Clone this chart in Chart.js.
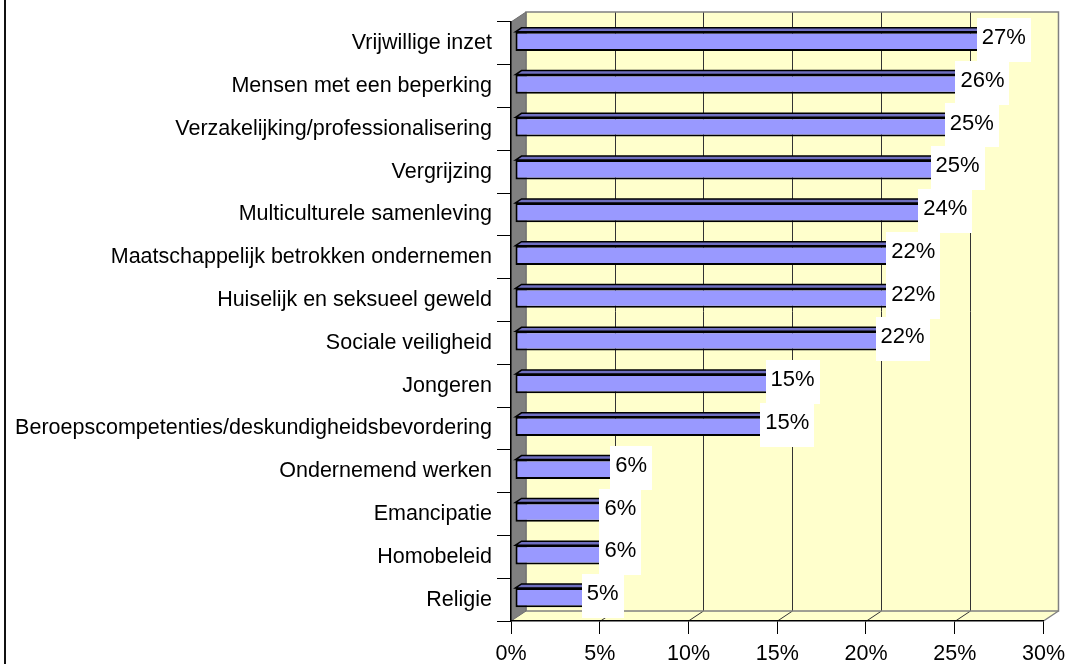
<!DOCTYPE html>
<html>
<head>
<meta charset="utf-8">
<script src="https://cdn.jsdelivr.net/npm/chart.js@4/dist/chart.umd.min.js"></script>
<style>
  html, body { margin: 0; padding: 0; background: #fff; }
  #wrap { width: 1072px; height: 664px; position: relative; }
</style>
</head>
<body>
<div id="wrap"><canvas id="themaChart"></canvas></div>
<script>
const categories = [
  'Vrijwillige inzet',
  'Mensen met een beperking',
  'Verzakelijking/professionalisering',
  'Vergrijzing',
  'Multiculturele samenleving',
  'Maatschappelijk betrokken ondernemen',
  'Huiselijk en seksueel geweld',
  'Sociale veiligheid',
  'Jongeren',
  'Beroepscompetenties/deskundigheidsbevordering',
  'Ondernemend werken',
  'Emancipatie',
  'Homobeleid',
  'Religie'
];
const percentages = [27.2, 26.0, 25.4, 24.6, 23.9, 22.1, 22.1, 21.5, 15.3, 15.0, 6.2, 5.6, 5.6, 4.6];
const tickSteps = [0, 5, 10, 15, 20, 25, 30];

const FONT = '"Liberation Sans", Arial, sans-serif';
const FONT_SIZE = 21.5;
const LABEL_SIZE = 22;

// depth of the 3d box and of each bar
const DX = 15, DY = 10;
const BAR_SHIFT_X = 4, BAR_SHIFT_Y = -2;
const BD_X = 6, BD_Y = 4;

function poly(ctx, pts, fill, stroke, lw) {
  ctx.beginPath();
  ctx.moveTo(pts[0][0], pts[0][1]);
  for (let i = 1; i < pts.length; i++) ctx.lineTo(pts[i][0], pts[i][1]);
  ctx.closePath();
  if (fill) { ctx.fillStyle = fill; ctx.fill(); }
  if (stroke) { ctx.strokeStyle = stroke; ctx.lineWidth = lw || 1; ctx.stroke(); }
}

const wallPlugin = {
  id: 'walls',
  beforeDraw(chart) {
    const { ctx, chartArea: a } = chart;
    const x = chart.scales.x;
    ctx.save();
    ctx.fillStyle = '#fff';
    ctx.fillRect(0, 0, chart.width, chart.height);
    ctx.fillStyle = '#111';
    ctx.fillRect(4, 0, 2, chart.height);

    // back wall + floor
    poly(ctx, [[a.left + DX, a.top - DY], [a.right + DX, a.top - DY], [a.right + DX, a.bottom - DY], [a.left + DX, a.bottom - DY]], '#FFFFCC');
    poly(ctx, [[a.left, a.bottom], [a.left + DX, a.bottom - DY], [a.right + DX, a.bottom - DY], [a.right, a.bottom]], '#FFFFCC');

    // gridlines run up the back wall and forward across the floor
    ctx.strokeStyle = '#333';
    ctx.lineWidth = 1;
    tickSteps.slice(1, -1).forEach(v => {
      const px = Math.round(x.getPixelForValue(v)) + 0.5;
      ctx.beginPath();
      ctx.moveTo(px + DX, a.top - DY);
      ctx.lineTo(px + DX, a.bottom - DY);
      ctx.lineTo(px, a.bottom);
      ctx.stroke();
    });

    ctx.strokeStyle = '#808080';
    ctx.lineWidth = 1.5;
    ctx.strokeRect(a.left + DX, a.top - DY, a.right - a.left, a.bottom - a.top);
    ctx.beginPath();
    ctx.moveTo(a.right, a.bottom);
    ctx.lineTo(a.right + DX, a.bottom - DY);
    ctx.stroke();

    // side wall
    poly(ctx, [[a.left, a.top], [a.left + DX, a.top - DY], [a.left + DX, a.bottom - DY], [a.left, a.bottom]], '#808080', '#6e6e6e', 1);
    ctx.restore();
  }
};

const barDepthPlugin = {
  id: 'barDepth',
  beforeDatasetsDraw(chart) {
    chart.ctx.save();
    chart.ctx.translate(BAR_SHIFT_X, BAR_SHIFT_Y);
  },
  afterDatasetsDraw(chart) {
    const ctx = chart.ctx;
    const meta = chart.getDatasetMeta(0);
    meta.data.forEach(bar => {
      const { x, y, base, height } = bar.getProps(['x', 'y', 'base', 'height'], true);
      const top = y - height / 2, bottom = y + height / 2;
      poly(ctx, [[x, top], [x + BD_X, top - BD_Y], [x + BD_X, bottom - BD_Y], [x, bottom]], '#5a5aa8', '#000', 1.5);
      poly(ctx, [[base, top], [base + BD_X, top - BD_Y], [x + BD_X, top - BD_Y], [x, top]], '#6f6fc0', '#000', 1.5);
    });
    ctx.restore();

    // value labels on white boxes
    const xs = chart.scales.x;
    ctx.save();
    ctx.font = LABEL_SIZE + 'px ' + FONT;
    ctx.textAlign = 'center';
    ctx.textBaseline = 'middle';
    meta.data.forEach((bar, i) => {
      const v = percentages[i];
      const txt = Math.round(v) + '%';
      const cx = xs.getPixelForValue(v) + 10;
      const cy = bar.y - 6.5;
      const w = ctx.measureText(txt).width + 10;
      ctx.fillStyle = '#fff';
      ctx.fillRect(Math.round(cx - w / 2), Math.round(cy - 19), Math.round(w), 44);
      ctx.fillStyle = '#000';
      ctx.fillText(txt, cx, cy + 1);
    });
    ctx.restore();
  }
};

new Chart(document.getElementById('themaChart'), {
  type: 'bar',
  data: {
    labels: categories,
    datasets: [{
      data: percentages,
      backgroundColor: '#9999FF',
      borderColor: '#000',
      borderWidth: 2,
      borderSkipped: false,
      categoryPercentage: 1,
      barPercentage: 0.45
    }]
  },
  options: {
    indexAxis: 'y',
    responsive: true,
    maintainAspectRatio: false,
    devicePixelRatio: 1,
    animation: false,
    layout: { padding: { top: 22, right: 24, left: 0, bottom: 0 } },
    plugins: { legend: { display: false }, tooltip: { enabled: false } },
    scales: {
      x: {
        min: 0,
        max: 30,
        afterFit(scale) { scale.height = 43; },
        afterBuildTicks(scale) { scale.ticks = tickSteps.map(v => ({ value: v })); },
        ticks: {
          callback: v => v + '%',
          color: '#000',
          padding: 7,
          font: { family: FONT, size: FONT_SIZE },
          maxRotation: 0
        },
        grid: { drawOnChartArea: false, tickLength: 13, color: '#000', lineWidth: 1 },
        border: { color: '#000', width: 1.5 }
      },
      y: {
        afterFit(scale) { scale.width = 511; },
        ticks: {
          color: '#000',
          padding: 5,
          font: { family: FONT, size: FONT_SIZE },
          autoSkip: false
        },
        grid: { offset: true, drawOnChartArea: false, tickLength: 14, color: '#000', lineWidth: 1 },
        border: { color: '#000', width: 1.5 }
      }
    }
  },
  plugins: [wallPlugin, barDepthPlugin]
});
</script>
</body>
</html>
